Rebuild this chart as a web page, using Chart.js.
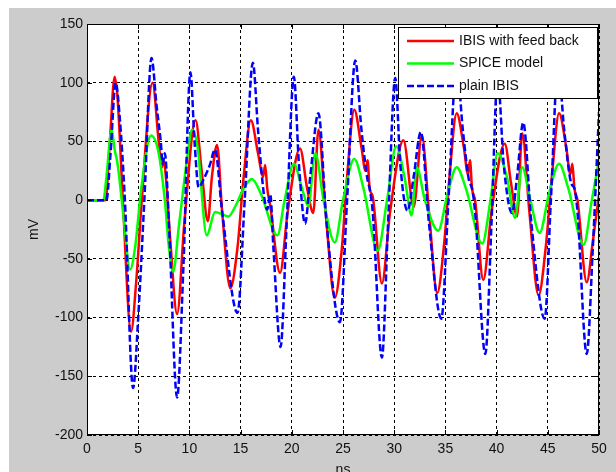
<!DOCTYPE html>
<html>
<head>
<meta charset="utf-8">
<script src="https://cdn.jsdelivr.net/npm/chart.js@4.4.1/dist/chart.umd.min.js"></script>
<style>
  html, body { margin: 0; padding: 0; background: #fff; }
  canvas { display: block; }
</style>
</head>
<body>
<canvas id="myChart" width="616" height="472"></canvas>
<script>
// series names
const seriesNames = ['IBIS with feed back', 'SPICE model', 'plain IBIS'];

// tick values
const xTickVals = [0, 5, 10, 15, 20, 25, 30, 35, 40, 45, 50];
const yTickVals = [-200, -150, -100, -50, 0, 50, 100, 150];

// IBIS with feed back (ns / mV)
const redT = [0, 1.8, 2.2, 2.7, 3.0, 3.5, 4.3, 4.8, 5.35, 6.4, 7.0, 7.3, 7.5, 7.7, 8.1, 8.8, 9.5, 10.6, 11.2, 11.8,
  12.2, 12.7, 13.2, 14.0, 14.7, 15.3, 16.0, 16.7, 17.2, 17.4, 17.6, 17.9, 18.85, 19.6, 20.8, 21.5, 22.1, 22.6, 23.3, 24.2,
  24.9, 25.4, 26.1, 26.8, 27.2, 27.4, 27.6, 27.9, 28.8, 29.6, 30.9, 31.9, 32.7, 33.4, 34.2, 34.9, 35.4, 36.1, 36.8, 37.2,
  37.4, 37.6, 37.9, 38.7, 39.5, 40.8, 41.4, 42.0, 42.5, 43.2, 44.1, 44.8, 45.4, 46.1, 46.8, 47.2, 47.4, 47.6, 47.9, 48.8,
  49.4, 50];
const redV = [0, 0, 45, 105, 85, 0, -112, -70, 0, 100, 50, 28, 34, 20, -30, -97, -20, 68, 25, -18,
  20, 47, -10, -75, -40, 20, 68, 40, 20, 30, 10, -5, -62, -10, 44, 10, -11, 60, -10, -83,
  -40, 20, 77, 45, 25, 34, 10, 3, -71, -10, 51, -6, 55, -10, -79, -35, 20, 74, 45, 22,
  34, 10, 0, -68, -10, 48, 15, -14, 57, -10, -81, -40, 20, 74, 45, 22, 31, 10, 0, -70,
  -35, 5];

// SPICE model
const greenT = [0, 1.6, 1.9, 2.4, 2.7, 3.0, 3.6, 4.2, 4.7, 5.3, 6.25, 7.0, 7.6, 8.0, 8.4, 9.0, 9.8, 10.25, 10.8, 11.7,
  12.5, 13.2, 13.8, 14.5, 15.3, 16.1, 17.0, 18.6, 19.3, 20.2, 21.0, 21.6, 22.3, 23.1, 24.2, 25.0, 26.1, 27.0, 28.4, 29.3,
  30.2, 31.0, 31.7, 32.2, 33.0, 34.3, 35.2, 36.1, 37.0, 38.6, 39.4, 40.1, 41.0, 41.8, 42.5, 43.3, 44.2, 45.1, 46.1, 47.0,
  48.5, 49.3, 50];
const greenV = [0, 0, 20, 60, 43, 30, -17, -59, -40, 10, 55, 40, 0, -40, -61, -20, 37, 60, 45, -30,
  -10, -12, -14, -5, 10, 18, 5, -30, 0, 31, 10, -5, 40, 0, -36, 0, 35, 10, -43, 0,
  46, 20, -13, 28, 0, -26, 5, 28, 10, -37, 0, 40, 20, -15, 28, 0, -28, 5, 31, 10,
  -38, 0, 34];

// plain IBIS
const blueT = [0, 1.9, 2.3, 2.8, 3.2, 3.7, 4.5, 5.0, 5.6, 6.3, 6.8, 7.2, 7.4, 7.6, 8.0, 8.8, 9.4, 10.1, 10.5, 10.9,
  11.4, 12.0, 12.5, 13.2, 14.7, 15.4, 16.2, 16.7, 17.3, 17.6, 17.9, 18.2, 18.9, 19.5, 20.2, 20.7, 21.3, 21.8, 22.6, 23.4,
  24.7, 25.4, 26.2, 26.8, 27.4, 27.6, 27.9, 28.8, 29.4, 30.1, 30.6, 31.3, 31.9, 32.6, 33.4, 34.6, 35.3, 36.1, 36.7, 37.3,
  37.6, 37.9, 38.9, 39.5, 40.1, 40.7, 41.5, 42.0, 42.6, 43.4, 44.7, 45.3, 46.0, 46.6, 47.3, 47.6, 47.9, 48.8, 49.4, 50];
const blueV = [0, 0, 40, 100, 70, 0, -160, -100, 0, 121, 80, 50, 31, 40, -20, -168, -60, 109, 50, 11,
  18, 30, 43, -10, -96, 0, 117, 60, 3, -8, 5, -40, -125, -20, 105, 30, -20, 20, 74, -20,
  -104, 0, 119, 60, 17, 10, -10, -134, -20, 104, 30, -9, 20, 58, -20, -101, 0, 115, 60, 17,
  10, -10, -131, -20, 105, 30, -11, 20, 66, -20, -101, 0, 115, 60, 14, 10, -10, -131, -40, 75];

const pts = (ts, vs) => ts.map((t, i) => ({ x: t, y: vs[i] }));

Chart.defaults.font.family = '"Liberation Sans", Arial, sans-serif';
Chart.defaults.font.size = 14;
Chart.defaults.color = '#111';

// matlab-like figure: gray frame, boxed axes with inward ticks, legend inside
const frame = {
  id: 'frame',
  beforeDraw(chart) {
    const { ctx, chartArea: a } = chart;
    ctx.save();
    ctx.fillStyle = '#fff';
    ctx.fillRect(0, 0, chart.width, chart.height);
    ctx.fillStyle = '#cccccc';
    ctx.fillRect(9, 8, chart.width - 9, chart.height - 8);
    ctx.fillStyle = '#fff';
    ctx.fillRect(a.left, a.top, a.right - a.left, a.bottom - a.top);
    ctx.restore();
  },
  afterDatasetsDraw(chart) {
    const { ctx, chartArea: a, scales } = chart;
    ctx.save();
    ctx.strokeStyle = '#000';
    ctx.lineWidth = 1;
    ctx.beginPath();
    xTickVals.forEach(v => {
      const x = Math.round(scales.x.getPixelForValue(v)) + 0.5;
      ctx.moveTo(x, a.bottom); ctx.lineTo(x, a.bottom - 5);
      ctx.moveTo(x, a.top); ctx.lineTo(x, a.top + 5);
    });
    yTickVals.forEach(v => {
      const y = Math.round(scales.y.getPixelForValue(v)) + 0.5;
      ctx.moveTo(a.left, y); ctx.lineTo(a.left + 5, y);
      ctx.moveTo(a.right, y); ctx.lineTo(a.right - 5, y);
    });
    ctx.stroke();
    ctx.strokeRect(a.left + 0.5, a.top + 0.5, a.right - a.left - 1, a.bottom - a.top - 1);

    // legend
    const x0 = a.right - 201, y0 = a.top + 3, w = 200, h = 72;
    ctx.fillStyle = '#fff';
    ctx.fillRect(x0, y0, w, h);
    ctx.strokeRect(x0 + 0.5, y0 + 0.5, w - 1, h - 1);
    ctx.font = '14px "Liberation Sans", Arial, sans-serif';
    ctx.textBaseline = 'middle';
    ctx.textAlign = 'left';
    chart.data.datasets.forEach((ds, i) => {
      const y = y0 + 14 + i * 22.5;
      ctx.save();
      ctx.strokeStyle = ds.borderColor;
      ctx.lineWidth = ds.borderWidth;
      ctx.setLineDash(ds.borderDash || []);
      ctx.beginPath();
      ctx.moveTo(x0 + 9, y); ctx.lineTo(x0 + 56, y);
      ctx.stroke();
      ctx.restore();
      ctx.fillStyle = '#111';
      ctx.fillText(ds.label, x0 + 61, y);
    });
    ctx.restore();
  }
};

const ctx = document.getElementById('myChart').getContext('2d');
const myChart = new Chart(ctx, {
  type: 'line',
  data: {
    datasets: [
      { label: seriesNames[0], data: pts(redT, redV), borderColor: '#ff0000', borderWidth: 2.5, order: 3 },
      { label: seriesNames[1], data: pts(greenT, greenV), borderColor: '#00ff00', borderWidth: 2.5, order: 2 },
      { label: seriesNames[2], data: pts(blueT, blueV), borderColor: '#0000ff', borderWidth: 2.5, borderDash: [7, 3], order: 1 }
    ]
  },
  options: {
    responsive: false,
    animation: false,
    elements: {
      point: { radius: 0 },
      line: { cubicInterpolationMode: 'monotone', fill: false }
    },
    layout: { padding: { top: 24, right: 17, left: 0, bottom: 0 } },
    plugins: { legend: { display: false }, tooltip: { enabled: false } },
    scales: {
      x: {
        type: 'linear',
        min: 0,
        max: 50,
        afterBuildTicks: s => { s.ticks = xTickVals.map(v => ({ value: v })); },
        afterFit: s => { s.height = 37; },
        grid: { color: '#000', lineWidth: 1, drawTicks: false },
        border: { display: false, dash: [3, 3] },
        ticks: { padding: 6, maxRotation: 0 },
        title: { display: true, text: 'ns', padding: { top: 0, bottom: -7 } }
      },
      y: {
        min: -200,
        max: 150,
        afterBuildTicks: s => { s.ticks = yTickVals.map(v => ({ value: v })); },
        afterFit: s => { s.width = 87; },
        grid: { color: '#000', lineWidth: 1, drawTicks: false },
        border: { display: false, dash: [3, 3] },
        ticks: { padding: 4 },
        title: { display: true, text: 'mV', padding: { top: 26, bottom: 0 } }
      }
    }
  },
  plugins: [frame]
});
</script>
</body>
</html>
